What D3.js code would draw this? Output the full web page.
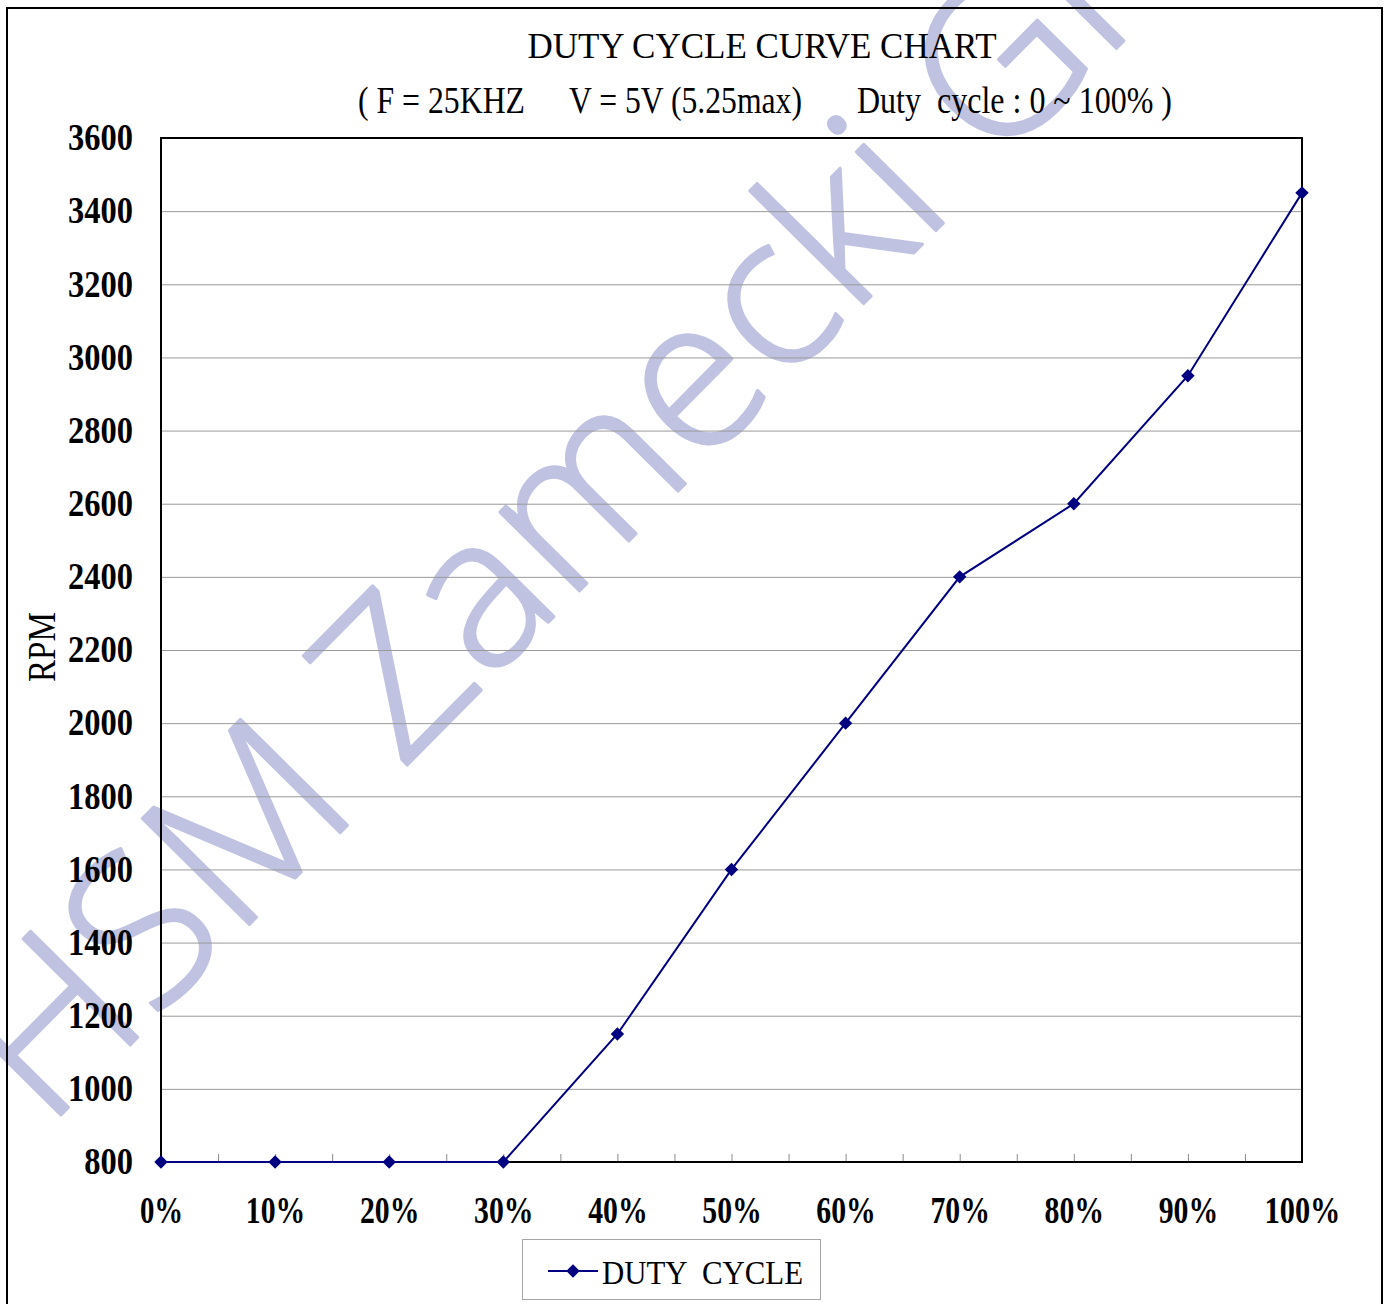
<!DOCTYPE html>
<html>
<head>
<meta charset="utf-8">
<script src="https://cdn.jsdelivr.net/npm/d3@7"></script>
<style>
  body { margin: 0; background: #fff; }
  svg { display: block; }
  text { font-family: "Liberation Serif", "Times New Roman", serif; }
  text.wm { font-family: "Open Sans", "Noto Sans", sans-serif; font-weight: 300; letter-spacing: 0.5px; }
</style>
</head>
<body>
<div id="chart"></div>
<script>
// Chart data
const categories = ["0%", "10%", "20%", "30%", "40%", "50%", "60%", "70%", "80%", "90%", "100%"];
const rpm = [800, 800, 800, 800, 1150, 1600, 2000, 2400, 2600, 2950, 3450];
const yTicks = [800, 1000, 1200, 1400, 1600, 1800, 2000, 2200, 2400, 2600, 2800, 3000, 3200, 3400, 3600];
const seriesName = "DUTY  CYCLE";

const W = 1387, H = 1304;
const plot = { left: 161, right: 1302, top: 138, bottom: 1162 };

const svg = d3.select("#chart")
    .append("svg")
    .attr("width", W)
    .attr("height", H);

// condensed glyph widths of the original font (digits / percent sign)
function condW(s) {
    let w = 0;
    for (const c of s) w += (c === "%") ? 27 : 16.25;
    return w;
}

// watermark, sits behind everything
svg.append("text")
    .attr("class", "wm")
    .attr("transform", "translate(46,1130) rotate(-45.3)")
    .attr("font-size", 211)
    .attr("fill", "#bfc2e0")
    .attr("stroke", "#bfc2e0")
    .attr("stroke-width", 3)
    .attr("stroke-linejoin", "round")
    .text("HSM Zamecki GmbH");

// outer frame
svg.append("rect")
    .attr("x", 7).attr("y", 8)
    .attr("width", 1375).attr("height", 1320)
    .attr("fill", "none")
    .attr("stroke", "#000")
    .attr("stroke-width", 2);

const x = d3.scalePoint()
    .domain(categories)
    .range([plot.left, plot.right]);

// index scale, used for the small ticks between categories
const xi = d3.scaleLinear()
    .domain([0, categories.length - 1])
    .range([plot.left, plot.right]);

const y = d3.scaleLinear()
    .domain([800, 3600])
    .range([plot.bottom, plot.top]);

// gridlines
const grid = svg.append("g")
    .attr("transform", `translate(${plot.left},0)`)
    .call(d3.axisLeft(y).tickValues(yTicks).tickSize(-(plot.right - plot.left)).tickFormat(""));
grid.select(".domain").remove();
grid.selectAll(".tick line").attr("stroke", "#9a9a9a").attr("stroke-width", 1);

// minor ticks on the category axis, pointing inwards
const minor = d3.range(0, categories.length - 0.5, 0.5);
const xt = svg.append("g")
    .attr("transform", `translate(0,${plot.bottom})`)
    .call(d3.axisBottom(xi).tickValues(minor).tickSize(-8).tickFormat(""));
xt.select(".domain").remove();
xt.selectAll(".tick line").attr("stroke", "#8a8a8a");

// plot border
svg.append("rect")
    .attr("x", plot.left).attr("y", plot.top)
    .attr("width", plot.right - plot.left)
    .attr("height", plot.bottom - plot.top)
    .attr("fill", "none")
    .attr("stroke", "#000")
    .attr("stroke-width", 2);

// y labels
const yl = svg.append("g")
    .attr("transform", `translate(${plot.left},0)`)
    .call(d3.axisLeft(y).tickValues(yTicks).tickFormat(d3.format("d")).tickSize(0).tickPadding(28));
yl.select(".domain").remove();
yl.selectAll(".tick text")
    .attr("font-size", 37)
    .attr("font-weight", "bold")
    .attr("fill", "#000")
    .attr("dy", "0.32em")
    .attr("textLength", d => condW(String(d)))
    .attr("lengthAdjust", "spacingAndGlyphs");

// x labels
const xl = svg.append("g")
    .attr("transform", `translate(0,${plot.bottom})`)
    .call(d3.axisBottom(x).tickSize(0).tickPadding(36));
xl.select(".domain").remove();
xl.selectAll(".tick text")
    .attr("font-size", 37)
    .attr("font-weight", "bold")
    .attr("fill", "#000")
    .attr("dy", "0.68em")
    .attr("textLength", d => condW(d))
    .attr("lengthAdjust", "spacingAndGlyphs");

// series line
const line = d3.line()
    .x((d, i) => x(categories[i]))
    .y(d => y(d));

svg.append("path")
    .datum(rpm)
    .attr("d", line)
    .attr("fill", "none")
    .attr("stroke", "#000080")
    .attr("stroke-width", 2);

const diamond = d3.symbol().type(d3.symbolSquare).size(90);

svg.selectAll(".pt")
    .data(rpm)
    .join("path")
    .attr("class", "pt")
    .attr("d", diamond)
    .attr("transform", (d, i) => `translate(${x(categories[i])},${y(d)}) rotate(45)`)
    .attr("fill", "#000080");

// titles
svg.append("text")
    .attr("x", 762).attr("y", 58)
    .attr("text-anchor", "middle")
    .attr("font-size", 35)
    .text("DUTY CYCLE CURVE CHART");

const sub = svg.append("text")
    .attr("y", 113)
    .attr("font-size", 37)
    .style("white-space", "pre");
sub.append("tspan").attr("x", 358).attr("textLength", 167).attr("lengthAdjust", "spacingAndGlyphs").text("( F = 25KHZ");
sub.append("tspan").attr("x", 569).attr("textLength", 233).attr("lengthAdjust", "spacingAndGlyphs").text("V = 5V (5.25max)");
sub.append("tspan").attr("x", 857).attr("textLength", 315).attr("lengthAdjust", "spacingAndGlyphs").text("Duty  cycle : 0 ~ 100% )");

// axis title
svg.append("text")
    .attr("transform", "translate(55,647) rotate(-90)")
    .attr("text-anchor", "middle")
    .attr("font-size", 39)
    .attr("textLength", 70)
    .attr("lengthAdjust", "spacingAndGlyphs")
    .text("RPM");

// legend
const lg = svg.append("g");
lg.append("rect")
    .attr("x", 522.5).attr("y", 1239.5)
    .attr("width", 298).attr("height", 60)
    .attr("fill", "#fff")
    .attr("stroke", "#a6a6a6");
lg.append("line")
    .attr("x1", 548).attr("x2", 598)
    .attr("y1", 1271).attr("y2", 1271)
    .attr("stroke", "#000080")
    .attr("stroke-width", 2);
lg.append("path")
    .attr("d", diamond)
    .attr("transform", "translate(573,1271) rotate(45)")
    .attr("fill", "#000080");
lg.append("text")
    .attr("x", 602).attr("y", 1284)
    .attr("font-size", 33)
    .attr("textLength", 201)
    .attr("lengthAdjust", "spacingAndGlyphs")
    .style("white-space", "pre")
    .text(seriesName);
</script>
</body>
</html>
